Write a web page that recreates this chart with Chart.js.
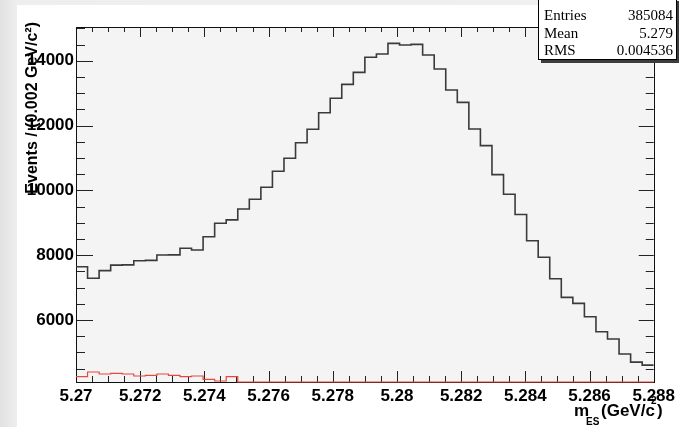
<!DOCTYPE html>
<html>
<head>
<meta charset="utf-8">
<script src="https://cdn.jsdelivr.net/npm/chart.js@4"></script>
<style>
  html, body { margin: 0; padding: 0; }
  body {
    width: 679px; height: 427px; position: relative; overflow: hidden;
    background: linear-gradient(to right, #e2e2e2 0px, #eeeeee 17px, #f0f0f0 100%);
  }
  #panel { position: absolute; left: 17px; top: 5px; right: 0; bottom: 0; background: #fff; }
  #wrap { position: absolute; left: 0; top: 0; width: 679px; height: 427px; }
  #stats {
    position: absolute; left: 538px; top: -2px; width: 137px; height: 60px;
    background: #fff; border: 1px solid #000; box-shadow: 3px 3px 0 #3c3c3c;
    font-family: "Liberation Serif", "DejaVu Serif", serif; font-size: 15px; color: #000;
  }
  .row { position: absolute; left: 5px; right: 3px; display: flex; justify-content: space-between; line-height: 17px; }
</style>
</head>
<body>
<div id="panel"></div>
<div id="wrap"><canvas id="mesChart"></canvas></div>
<div id="stats">
  <div class="row" style="top:8px"><span>Entries</span><span>385084</span></div>
  <div class="row" style="top:26px"><span>Mean</span><span>5.279</span></div>
  <div class="row" style="top:43px"><span>RMS</span><span>0.004536</span></div>
</div>
<script>
// axis ranges and binning (50 bins between 5.27 and 5.288)
const xMin = 5.27;
const xMax = 5.288;
const binWidth = 0.00036;
const yMin = 4088;
const yMax = 15040;

const xTickValues = [5.27, 5.272, 5.274, 5.276, 5.278, 5.28, 5.282, 5.284, 5.286, 5.288];
const yTickValues = [6000, 8000, 10000, 12000, 14000];

// events per bin
const dataCounts = [
  7645, 7290, 7525, 7695, 7700, 7830, 7840, 8005, 8010, 8215,
  8160, 8570, 8985, 9090, 9425, 9725, 10095, 10590, 10990, 11470,
  11885, 12395, 12840, 13270, 13640, 14105, 14205, 14535, 14485, 14505,
  14175, 13745, 13095, 12715, 11895, 11380, 10485, 9880, 9255, 8445,
  7935, 7275, 6700, 6515, 6100, 5640, 5415, 4950, 4700, 4610
];
const bkgCounts = [
  4251, 4396, 4335, 4357, 4335, 4273, 4295, 4335, 4295, 4251,
  4273, 4171, 4119, 4251, 4088, 4088, 4088, 4088, 4088, 4088,
  4088, 4088, 4088, 4088, 4088, 4088, 4088, 4088, 4088, 4088,
  4088, 4088, 4088, 4088, 4088, 4088, 4088, 4088, 4088, 4088,
  4088, 4088, 4088, 4088, 4088, 4088, 4088, 4088, 4088, 4088
];

// histogram outline: one point per lower bin edge, plus the upper edge of the last bin
function stepPoints(counts) {
  const pts = counts.map((c, i) => ({ x: xMin + i * binWidth, y: c }));
  pts.push({ x: xMin + counts.length * binWidth, y: counts[counts.length - 1] });
  return pts;
}

const labelFont = { family: "'Liberation Sans', Arial, sans-serif", size: 17, weight: 'bold' };

// ROOT-like frame: grey pad, inward ticks on all four sides, axis titles
const rootFrame = {
  id: 'rootFrame',
  beforeDraw(chart) {
    const { ctx, chartArea: a } = chart;
    ctx.save();
    ctx.fillStyle = '#f4f4f4';
    ctx.fillRect(a.left, a.top, a.right - a.left, a.bottom - a.top);
    ctx.restore();
  },
  beforeDatasetsDraw(chart) {
    const { ctx, chartArea: a, scales } = chart;
    const xs = scales.x, ys = scales.y;
    ctx.save();
    ctx.strokeStyle = '#222';
    ctx.lineWidth = 1;
    ctx.beginPath();
    // y ticks, left and right
    for (let v = Math.ceil(yMin / 500) * 500; v <= yMax; v += 500) {
      const y = Math.round(ys.getPixelForValue(v)) + 0.5;
      const major = v % 2000 === 0;
      ctx.moveTo(a.left, y); ctx.lineTo(a.left + (major ? 17 : 9), y);
      ctx.moveTo(a.right, y); ctx.lineTo(a.right - (major ? 15 : 8), y);
    }
    // x ticks, bottom and top
    for (let k = 0; k <= 36; k++) {
      const v = xMin + k * 0.0005;
      const x = Math.round(xs.getPixelForValue(v)) + 0.5;
      const major = k % 4 === 0;
      ctx.moveTo(x, a.bottom); ctx.lineTo(x, a.bottom - (major ? 11 : 6));
      ctx.moveTo(x, a.top); ctx.lineTo(x, a.top + (major ? 10 : 5));
    }
    ctx.stroke();
    ctx.strokeStyle = '#111';
    ctx.strokeRect(Math.round(a.left) + 0.5, Math.round(a.top) + 0.5,
      Math.round(a.right - a.left), Math.round(a.bottom - a.top));
    ctx.restore();
  },
  afterDraw(chart) {
    const { ctx } = chart;
    ctx.save();
    ctx.fillStyle = '#000';
    // y title
    ctx.translate(33, 22);
    ctx.rotate(-Math.PI / 2);
    ctx.font = "bold 16px 'Liberation Sans', Arial, sans-serif";
    ctx.textAlign = 'right';
    ctx.textBaseline = 'middle';
    ctx.fillText('Events / (0.002 GeV/c\u00b2)', 0, 0);
    ctx.restore();

    // x title
    ctx.save();
    ctx.fillStyle = '#000';
    ctx.textBaseline = 'alphabetic';
    ctx.font = "bold 17px 'Liberation Sans', Arial, sans-serif";
    ctx.fillText('m', 574, 416);
    ctx.fillText('(GeV/c', 601, 416);
    ctx.fillText(')', 657, 416);
    ctx.font = "bold 10px 'Liberation Sans', Arial, sans-serif";
    ctx.fillText('ES', 586, 425);
    ctx.fillText('2', 651, 404);
    ctx.restore();
  }
};

const ctxMes = document.getElementById('mesChart').getContext('2d');
const mesChart = new Chart(ctxMes, {
  type: 'line',
  data: {
    datasets: [
      {
        label: 'bkg',
        data: stepPoints(bkgCounts),
        borderColor: '#e8483e',
        borderWidth: 1.2,
        stepped: true,
        pointRadius: 0,
        fill: false,
        clip: 2
      },
      {
        label: 'mES',
        data: stepPoints(dataCounts),
        borderColor: '#3a3a3a',
        borderWidth: 1.6,
        stepped: true,
        pointRadius: 0,
        fill: false
      }
    ]
  },
  options: {
    responsive: true,
    maintainAspectRatio: false,
    animation: false,
    layout: { padding: { top: 27, right: 22, left: 0, bottom: 0 } },
    plugins: { legend: { display: false }, tooltip: { enabled: false } },
    scales: {
      x: {
        type: 'linear',
        min: xMin,
        max: xMax,
        grid: { display: false, drawTicks: false },
        border: { display: false },
        afterBuildTicks: s => { s.ticks = xTickValues.map(v => ({ value: v })); },
        afterFit: s => { s.height = 45; },
        ticks: {
          color: '#000',
          font: labelFont,
          padding: 4,
          maxRotation: 0,
          autoSkip: false,
          callback: v => String(Number(v.toFixed(3)))
        }
      },
      y: {
        min: yMin,
        max: yMax,
        grid: { display: false, drawTicks: false },
        border: { display: false },
        afterBuildTicks: s => { s.ticks = yTickValues.map(v => ({ value: v })); },
        afterFit: s => { s.width = 76; },
        ticks: {
          color: '#000',
          font: labelFont,
          padding: 2,
          callback: v => String(v)
        }
      }
    }
  },
  plugins: [rootFrame]
});
</script>
</body>
</html>
